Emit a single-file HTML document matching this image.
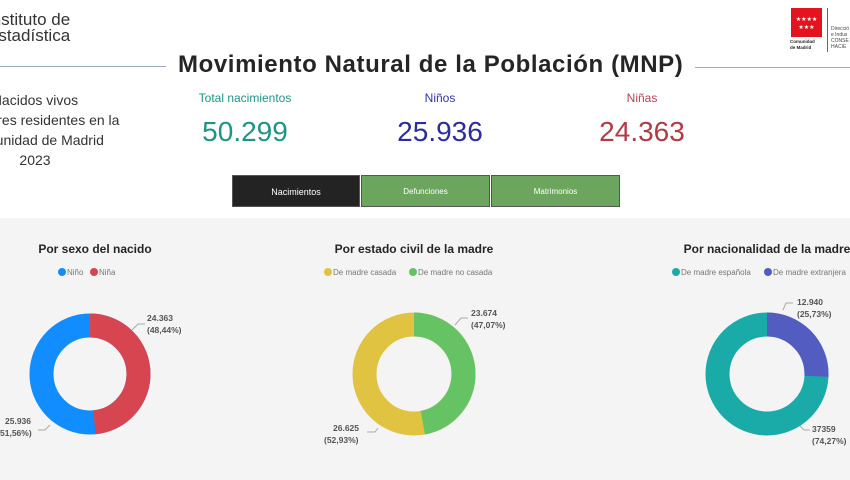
<!DOCTYPE html>
<html><head><meta charset="utf-8"><style>
html,body{margin:0;padding:0}
#w{width:850px;height:480px;overflow:hidden;background:#fff;font-family:"Liberation Sans","DejaVu Sans",sans-serif;position:relative}
.a{position:absolute;white-space:nowrap}
.btn{position:absolute;top:175px;height:32px;line-height:32px;text-align:center;font-size:8px;color:#fff;box-sizing:border-box;border:1px solid #555}
</style></head><body><div id="w">
<div class="a" style="left:0;top:12px;font-size:17px;line-height:16px;color:#333;overflow:hidden;width:90px"><div style="margin-left:-13px">Instituto de<br>Estadística</div></div>
<div class="a" style="left:0;top:66px;width:166px;height:1px;background:#9aa8bd"></div>
<div class="a" style="left:695px;top:67px;width:155px;height:1px;background:#9aa8bd"></div>
<div class="a" style="left:178px;top:51px;font-size:24px;font-weight:bold;color:#252525;letter-spacing:0.6px">Movimiento Natural de la Población (MNP)</div>
<div class="a" style="left:791px;top:8px;width:31px;height:29px;background:#e3141f;color:#fff;font-size:6px;text-align:center;line-height:8px;padding-top:8px;box-sizing:border-box">★★★★<br>★★★</div>
<div class="a" style="left:790px;top:39px;font-size:4.5px;font-weight:bold;line-height:6px;color:#222">Comunidad<br>de Madrid</div>
<div class="a" style="left:827px;top:8px;width:1px;height:44px;background:#666"></div>
<div class="a" style="left:831px;top:26px;font-size:5px;line-height:6px;color:#444;width:19px;overflow:hidden">Direcció<br>e Indus<br>CONSE<br>HACIE</div>
<div class="a" style="left:0;top:90px;width:140px;overflow:hidden;font-size:14px;line-height:20px;color:#333"><div style="margin-left:-65px;width:200px;text-align:center">Nacidos vivos<br>de madres residentes en la<br>Comunidad de Madrid<br>2023</div></div>
<div class="a" style="left:145px;top:91px;width:200px;text-align:center;font-size:12px;color:#1f9485">Total nacimientos</div>
<div class="a" style="left:145px;top:116px;width:200px;text-align:center;font-size:28px;color:#1f9485">50.299</div>
<div class="a" style="left:340px;top:91px;width:200px;text-align:center;font-size:12px;color:#3434a8">Niños</div>
<div class="a" style="left:340px;top:116px;width:200px;text-align:center;font-size:28px;color:#2c2ca0">25.936</div>
<div class="a" style="left:542px;top:91px;width:200px;text-align:center;font-size:12px;color:#b4454e">Niñas</div>
<div class="a" style="left:542px;top:116px;width:200px;text-align:center;font-size:28px;color:#b03a46">24.363</div>
<div class="btn" style="left:232px;width:128px;background:#232323;font-size:9px">Nacimientos</div>
<div class="btn" style="left:361px;width:129px;background:#6ba55e">Defunciones</div>
<div class="btn" style="left:491px;width:129px;background:#6ba55e">Matrimonios</div>
<div class="a" style="left:0;top:218px;width:850px;height:262px;background:#f4f4f4"></div>
<svg class="a" style="left:0;top:0" width="850" height="480" font-family="Liberation Sans, sans-serif">
<g font-size="12" font-weight="bold" fill="#252525">
<text x="95" y="253" text-anchor="middle">Por sexo del nacido</text>
<text x="414" y="253" text-anchor="middle">Por estado civil de la madre</text>
<text x="767" y="253" text-anchor="middle">Por nacionalidad de la madre</text>
</g>
<g font-size="8" fill="#777">
<circle cx="62" cy="272" r="4" fill="#118dff"/><text x="67" y="275">Niño</text>
<circle cx="94" cy="272" r="4" fill="#d64550"/><text x="99" y="275">Niña</text>
<circle cx="328" cy="272" r="4" fill="#e0c341"/><text x="333" y="275">De madre casada</text>
<circle cx="413" cy="272" r="4" fill="#66c363"/><text x="418" y="275">De madre no casada</text>
<circle cx="676" cy="272" r="4" fill="#1aaba8"/><text x="681" y="275">De madre española</text>
<circle cx="768" cy="272" r="4" fill="#535cc1"/><text x="773" y="275">De madre extranjera</text>
</g>
<g fill="none" stroke-width="24">
<circle cx="90" cy="374" r="48.5" stroke="#118dff"/>
<circle cx="90" cy="374" r="48.5" stroke="#d64550" stroke-dasharray="147.6 400" transform="rotate(-90 90 374)"/>
<circle cx="414" cy="374" r="49.5" stroke="#e0c341"/>
<circle cx="414" cy="374" r="49.5" stroke="#66c363" stroke-dasharray="146.4 400" transform="rotate(-90 414 374)"/>
<circle cx="767" cy="374" r="49.5" stroke="#1aaba8"/>
<circle cx="767" cy="374" r="49.5" stroke="#535cc1" stroke-dasharray="80 400" transform="rotate(-90 767 374)"/>
</g>
<g fill="none" stroke="#aaa" stroke-width="1">
<polyline points="132,330 138,324 145,324"/>
<polyline points="50,425 45,430 38,430"/>
<polyline points="455,325 461,318 468,318"/>
<polyline points="378,428 375,432 367,432"/>
<polyline points="783,310 786,303 793,303"/>
<polyline points="800,426 804,430 810,430"/>
</g>
<g font-size="8.5" font-weight="bold" fill="#555">
<text x="147" y="321">24.363</text><text x="147" y="333">(48,44%)</text>
<text x="5" y="424">25.936</text><text x="0" y="436">51,56%)</text>
<text x="471" y="316">23.674</text><text x="471" y="328">(47,07%)</text>
<text x="333" y="431">26.625</text><text x="324" y="443">(52,93%)</text>
<text x="797" y="305">12.940</text><text x="797" y="317">(25,73%)</text>
<text x="812" y="432">37359</text><text x="812" y="444">(74,27%)</text>
</g>
</svg>
</div></body></html>
